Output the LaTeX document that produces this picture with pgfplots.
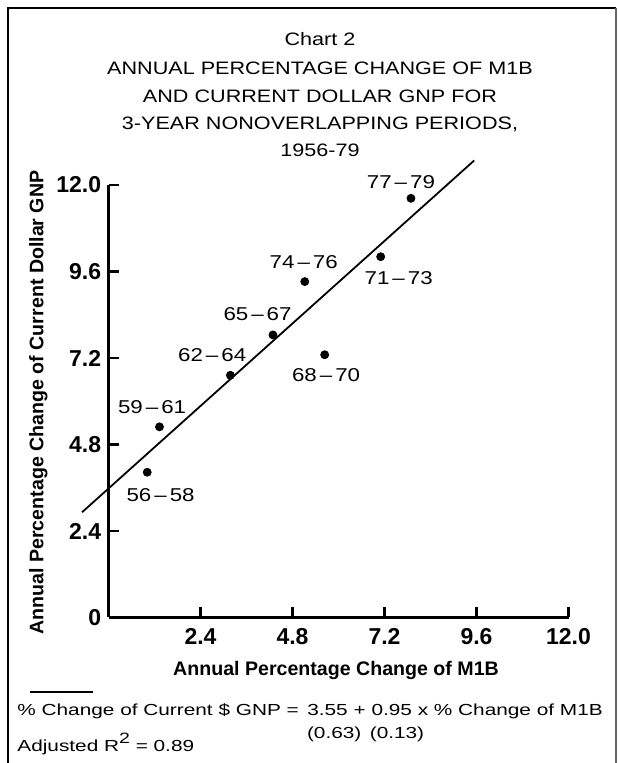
\documentclass[border=0pt]{standalone}
\usepackage{fontspec}
\setmainfont{Liberation Sans}
\newfontfamily\widefont[FakeStretch=1.2]{Liberation Sans}
\newfontfamily\footfont[FakeStretch=1.3]{Liberation Sans}
\usepackage{pgfplots}
\pgfplotsset{compat=1.18}
\begin{document}
\begin{tikzpicture}[x=0.5pt,y=0.5pt,
  ttl/.style={font=\widefont\fontsize{9}{10}\selectfont, inner sep=0pt, anchor=base},
  lab/.style={font=\widefont\fontsize{9.3}{10}\selectfont, inner sep=0pt},
  ft/.style={font=\footfont\fontsize{8}{9}\selectfont, inner sep=0pt}]
\useasboundingbox (0,0) rectangle (618,763);
% frame
\draw[line width=1pt] (8.3,0) -- (8.3,754.5) -- (616,754.5);
\draw[line width=0.6pt, black!60] (616,754.5) -- (616,0);
% title
\node[ttl] at (320,717) {Chart 2};
\node[ttl] at (320,688) {ANNUAL PERCENTAGE CHANGE OF M1B};
\node[ttl] at (320,660) {AND CURRENT DOLLAR GNP FOR};
\node[ttl] at (320,633) {3-YEAR NONOVERLAPPING PERIODS,};
\node[ttl] at (320,606) {1956-79};
% axis titles
\node[font=\fontsize{9.8}{11}\selectfont\bfseries, inner sep=0pt, anchor=base] at (336,87) {Annual Percentage Change of M1B};
\node[font=\fontsize{9.8}{11}\selectfont\bfseries, inner sep=0pt, anchor=base, rotate=90] at (43.4,360.5) {Annual Percentage Change of Current Dollar GNP};
% footnote
\draw[line width=0.8pt] (30,71) -- (93,71);
\node[ft, anchor=base west] at (17,47) {\% Change of Current \$ GNP = \,3.55 + 0.95 x \% Change of M1B};
\node[ft, anchor=base] at (365.6,25) {(0.63) \,(0.13)};
\node[ft, anchor=base west] at (17,11) {Adjusted R\raisebox{0.5em}{\fontsize{7.5}{8}\selectfont 2} = 0.89};
\begin{axis}[
  at={(54.25pt,72.75pt)}, anchor=south west,
  scale only axis, width=230pt, height=216.25pt,
  xmin=0, xmax=12, ymin=0, ymax=12,
  axis lines=left,
  axis line style={-, line width=1.3pt},
  tick align=inside,
  major tick length=5pt,
  tick style={line width=1.1pt, black},
  xtick={2.4,4.8,7.2,9.6,12}, xticklabels={2.4,4.8,7.2,9.6,12.0},
  ytick={0,2.4,4.8,7.2,9.6,12}, yticklabels={0,2.4,4.8,7.2,9.6,12.0},
  /pgf/number format/assume math mode=true,
  ticklabel style={font=\fontsize{11.5}{12}\selectfont\bfseries, inner sep=0pt},
  xticklabel style={anchor=north, yshift=-5.5pt},
  yticklabel style={anchor=east, xshift=-3.5pt},
  clip=false,
]
\addplot[only marks, mark=*, mark size=2pt, black] coordinates {
  (1.01,4.03) (1.33,5.29) (3.18,6.72) (4.29,7.84) (5.64,7.29) (5.12,9.32) (7.10,10.01) (7.89,11.63)};
\addplot[black, line width=0.9pt] coordinates {(-0.69,2.92) (9.54,12.68)};
\node[lab, xshift=-5pt, yshift=8.3pt] at (axis cs:7.89,11.63) {77\kern1.5pt–\kern1.5pt79};
\node[lab, xshift=9pt, yshift=-10.8pt] at (axis cs:7.10,10.01) {71\kern1.5pt–\kern1.5pt73};
\node[lab, xshift=-0.5pt, yshift=9.6pt] at (axis cs:5.12,9.32) {74\kern1.5pt–\kern1.5pt76};
\node[lab, xshift=-7.7pt, yshift=10.2pt] at (axis cs:4.29,7.84) {65\kern1.5pt–\kern1.5pt67};
\node[lab, xshift=0.7pt, yshift=-10.2pt] at (axis cs:5.64,7.29) {68\kern1.5pt–\kern1.5pt70};
\node[lab, xshift=-9.1pt, yshift=10.2pt] at (axis cs:3.18,6.72) {62\kern1.5pt–\kern1.5pt64};
\node[lab, xshift=-3.7pt, yshift=10pt] at (axis cs:1.33,5.29) {59\kern1.5pt–\kern1.5pt61};
\node[lab, xshift=6.7pt, yshift=-11.6pt] at (axis cs:1.01,4.03) {56\kern1.5pt–\kern1.5pt58};
\end{axis}
\end{tikzpicture}
\end{document}
